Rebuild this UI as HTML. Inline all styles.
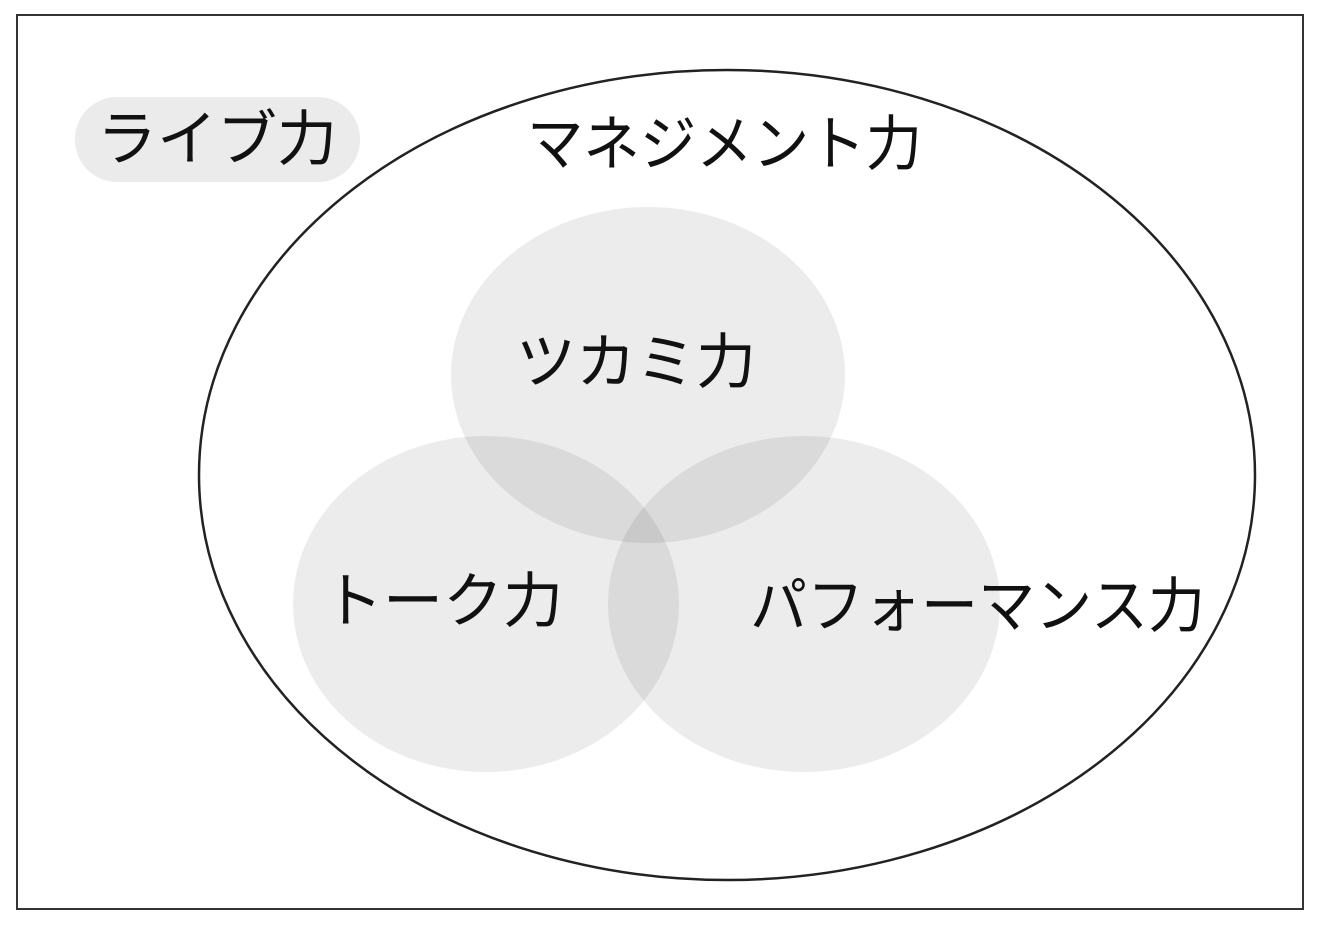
<!DOCTYPE html>
<html><head><meta charset="utf-8"><style>
html,body{margin:0;padding:0;background:#fff;}
svg{display:block}
text{font-family:"Liberation Sans","Noto Sans CJK JP",sans-serif;fill:#111;}
</style></head><body>
<svg width="1317" height="925" viewBox="0 0 1317 925" xmlns="http://www.w3.org/2000/svg">
<rect x="17" y="15" width="1286" height="894" fill="#fff" stroke="#333" stroke-width="2"/>
<ellipse cx="727" cy="475" rx="528" ry="405" fill="#fff" stroke="#222" stroke-width="2.5"/>
<g fill="#000" fill-opacity="0.075">
<ellipse cx="648" cy="375" rx="197" ry="168"/>
<ellipse cx="486" cy="604" rx="193" ry="168"/>
<ellipse cx="804" cy="604" rx="196" ry="168"/>
</g>
<rect x="75" y="97" width="285" height="85" rx="42" fill="#ebebeb"/>
<text x="217" y="160" font-size="60" text-anchor="middle">ライブ力</text>
<text x="527" y="165" font-size="60" textLength="395" lengthAdjust="spacingAndGlyphs">マネジメント力</text>
<text x="636" y="383" font-size="60" text-anchor="middle">ツカミ力</text>
<text x="443" y="622" font-size="60" text-anchor="middle">トーク力</text>
<text x="750" y="627" font-size="60" textLength="455" lengthAdjust="spacingAndGlyphs">パフォーマンス力</text>
</svg>
</body></html>
